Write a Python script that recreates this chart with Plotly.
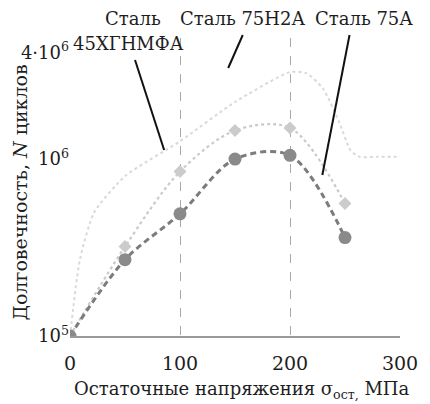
import numpy as np
import plotly.graph_objects as go

# ---- data ----
# Сталь 75А (dark circles, dashed)
x_75a = [0, 50, 100, 150, 200, 250]
n_75a = [1.0e5, 2.7e5, 4.9e5, 1.0e6, 1.05e6, 3.6e5]

# Сталь 75Н2А (light diamonds, dotted)
x_75n2a = [0, 50, 100, 150, 200, 250]
n_75n2a = [1.0e5, 3.2e5, 8.5e5, 1.45e6, 1.5e6, 5.6e5]

# Сталь 45ХГНМФА (lightest dotted curve)
x_45 = [0, 9, 22, 50, 100, 150, 200, 215, 230, 245, 255, 263, 280, 300]
n_45 = [1.0e5, 2.7e5, 5.0e5, 8.0e5, 1.26e6, 2.1e6, 3.1e6, 3.05e6,
        2.5e6, 1.6e6, 1.12e6, 1.03e6, 1.03e6, 1.03e6]

x_ticks = [0, 100, 200, 300]
y_tickvals = [1e5, 1e6, 4e6]
y_ticktext = ["10<sup>5</sup>", "10<sup>6</sup>", "4·10<sup>6</sup>"]

FONT = "DejaVu Serif"
TXT = "#1e1e1e"

fig = go.Figure()

fig.add_trace(go.Scatter(
    x=x_45, y=n_45, mode="lines",
    line=dict(color="#d9d9d9", width=2, dash="dot", shape="spline", smoothing=0.6),
    hoverinfo="skip", showlegend=False))

fig.add_trace(go.Scatter(
    x=x_75n2a, y=n_75n2a, mode="lines+markers",
    line=dict(color="#cacaca", width=2.2, dash="dot", shape="spline", smoothing=0.9),
    marker=dict(symbol="diamond", size=10, color="#cbcbcb"),
    hoverinfo="skip", showlegend=False))

fig.add_trace(go.Scatter(
    x=x_75a, y=n_75a, mode="lines+markers",
    line=dict(color="#7c7c7c", width=3, dash="6px,4px", shape="spline", smoothing=0.9),
    marker=dict(symbol="circle", size=13, color="#8a8a8a"),
    hoverinfo="skip", showlegend=False))

# horizontal reference line at 10^6
fig.add_shape(type="line", xref="paper", x0=0, x1=1, yref="y",
              y0=np.log10(1e6), y1=np.log10(1e6),
              line=dict(color="#9a9a9a", width=1.5), layer="below")

def px_x(p):
    return (p - 70) / 340.0

def px_y(p):
    return (336 - p) / 298.0

anns = []
anns.append(dict(text="Сталь", x=px_x(135), y=px_y(18)))
anns.append(dict(text="45ХГНМФА", x=px_x(130), y=px_y(43)))
anns.append(dict(text="Сталь 75Н2А", x=px_x(248), y=px_y(18)))
anns.append(dict(text="Сталь 75А", x=px_x(373), y=px_y(18)))
for a in anns:
    a.update(xref="paper", yref="paper", showarrow=False, xanchor="center",
             yanchor="middle", font=dict(family=FONT, size=18, color=TXT))

# leader lines (start -> end)
leaders = [((137, 60), (167, 150)), ((248, 35), (233, 68)), ((358, 35), (330, 175))]
for (sx, sy), (ex, ey) in leaders:
    fig.add_shape(type="line", xref="paper", yref="paper",
                  x0=px_x(sx), y0=px_y(sy), x1=px_x(ex), y1=px_y(ey),
                  line=dict(color="#111111", width=2))

# axis titles
anns.append(dict(text="Остаточные напряжения σ<sub>ост,</sub> МПа", xref="paper", yref="paper",
                 x=px_x(247), y=px_y(390), showarrow=False, xanchor="center", yanchor="middle",
                 font=dict(family=FONT, size=18, color=TXT)))
anns.append(dict(text="Долговечность, <i>N</i> циклов", xref="paper", yref="paper",
                 x=px_x(18), y=px_y(193), showarrow=False, xanchor="center", yanchor="middle",
                 textangle=-90, font=dict(family=FONT, size=19, color=TXT)))

fig.update_layout(
    width=430, height=404,
    margin=dict(l=70, r=20, t=38, b=68),
    paper_bgcolor="white", plot_bgcolor="white",
    font=dict(family=FONT),
    annotations=anns,
    xaxis=dict(range=[0, 300], tickvals=x_ticks, showgrid=True, gridcolor="#a8a8a8",
               griddash="dash", gridwidth=1, zeroline=False,
               showline=True, linecolor="#9a9a9a", linewidth=1.5,
               ticks="outside", ticklen=9, tickcolor="rgba(0,0,0,0)",
               ticklabeloverflow="allow",
               tickfont=dict(family=FONT, size=19, color=TXT)),
    yaxis=dict(type="log", range=[5, 6.684], tickvals=y_tickvals, ticktext=y_ticktext,
               showgrid=False, zeroline=False, showline=False,
               ticks="", tickfont=dict(family=FONT, size=18, color=TXT)),
)

fig.write_html("out.html")
